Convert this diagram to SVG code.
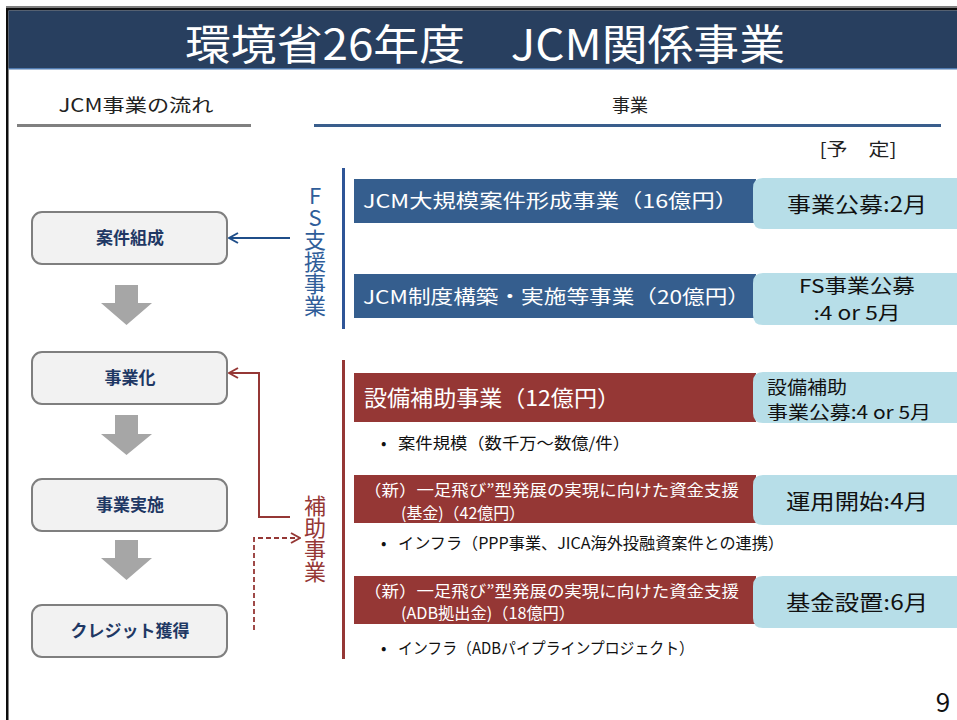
<svg xmlns="http://www.w3.org/2000/svg" width="957" height="720" viewBox="0 0 957 720">
<defs>
<style>
.jp{font-family:"Noto Sans CJK JP","Noto Sans",sans-serif;}
.node rect{fill:#F2F2F2;stroke:#7F7F7F;stroke-width:2;}
.node text{font-family:"Noto Sans CJK JP",sans-serif;font-weight:bold;font-size:17px;fill:#1F3864;text-anchor:middle;}
.bar-b{fill:#355E8E;}
.bar-r{fill:#953735;}
.sched{fill:#B7DEE8;}
.wt{fill:#FFFFFF;}
.bk{fill:#111111;}
.blk{fill:#A6A6A6;}
.vert{writing-mode:vertical-rl;text-orientation:upright;}
</style>
<marker id="chevB" markerWidth="12" markerHeight="12" refX="11" refY="6" orient="auto" markerUnits="userSpaceOnUse">
<path d="M2,1 L11,6 L2,11" fill="none" stroke="#1F4E89" stroke-width="2"/>
</marker>
<marker id="chevR" markerWidth="12" markerHeight="12" refX="11" refY="6" orient="auto" markerUnits="userSpaceOnUse">
<path d="M2,1 L11,6 L2,11" fill="none" stroke="#953735" stroke-width="2"/>
</marker>
</defs>
<rect x="0" y="0" width="957" height="720" fill="#FFFFFF"/>
<!-- frame and title band -->
<rect x="6" y="6" width="951" height="2" fill="#7F7F7F"/>
<rect x="6" y="8" width="951" height="2.5" fill="#0D0D0D"/>
<rect x="6" y="8" width="2.5" height="712" fill="#0D0D0D"/>
<rect x="8.5" y="10.5" width="948.5" height="57.5" fill="#283F5F"/>
<rect x="8.5" y="68" width="948.5" height="1.5" fill="#4F7AB0"/>
<text x="485" y="60" class="jp" font-size="42" fill="#FFFFFF" text-anchor="middle" textLength="600" lengthAdjust="spacingAndGlyphs">環境省26年度　JCM関係事業</text>

<!-- section headers -->
<text x="136" y="112" class="jp" font-size="18" fill="#222222" text-anchor="middle" textLength="155" lengthAdjust="spacingAndGlyphs">JCM事業の流れ</text>
<rect x="17" y="124" width="234" height="3" fill="#808080"/>
<text x="630" y="112" class="jp" font-size="18" fill="#222222" text-anchor="middle">事業</text>
<rect x="314" y="124" width="627" height="3" fill="#3A5E8C"/>
<text x="858" y="156" class="jp" font-size="18" fill="#222222" text-anchor="middle" textLength="77" lengthAdjust="spacingAndGlyphs">[予　定]</text>

<!-- flow nodes -->
<g id="node-anken" class="node"><rect x="32" y="212" width="195" height="52" rx="10"/><text x="130" y="244">案件組成</text></g>
<g id="node-jigyoka" class="node"><rect x="32" y="352" width="195" height="52" rx="10"/><text x="130" y="384">事業化</text></g>
<g id="node-jisshi" class="node"><rect x="32" y="479" width="195" height="52" rx="10"/><text x="130" y="511">事業実施</text></g>
<g id="node-credit" class="node"><rect x="32" y="605" width="195" height="52" rx="10"/><text x="130" y="637">クレジット獲得</text></g>

<!-- block arrows between flow nodes -->
<g id="flow-arrows" class="blk">
<path d="M115,285 H138 V303 H152 L126.5,325 L101,303 H115 Z"/>
<path d="M115,415 H138 V434 H152 L126.5,455 L101,434 H115 Z"/>
<path d="M115,540 H138 V558 H152 L126.5,580 L101,558 H115 Z"/>
</g>

<!-- connectors -->
<g id="connectors" fill="none">
<path d="M290,238 H229" stroke="#1F4E89" stroke-width="2" marker-end="url(#chevB)"/>
<path d="M290,517 H259 V373 H229" stroke="#953735" stroke-width="2" marker-end="url(#chevR)"/>
<path d="M254,630 V538 H300" stroke="#953735" stroke-width="1.8" stroke-dasharray="5,3" marker-end="url(#chevR)"/>
</g>

<!-- FS support label -->
<g id="fs-label">
<rect x="342" y="168" width="3" height="161" fill="#2F5597"/>
<text x="315" y="185" class="jp vert" font-size="22" fill="#2F5D99">FS支援事業</text>
</g>

<!-- subsidy label -->
<g id="hojo-label">
<rect x="342" y="360" width="3" height="299" fill="#953735"/>
<text x="315" y="495" class="jp vert" font-size="22" fill="#953735">補助事業</text>
</g>

<!-- FS projects -->
<g id="fs-large">
<rect x="354" y="179" width="402" height="44" class="bar-b"/>
<text x="363" y="208" class="jp wt" font-size="19" textLength="375" lengthAdjust="spacingAndGlyphs">JCM大規模案件形成事業（16億円）</text>
</g>
<g id="sched-1">
<path d="M763,178 H957 V229 H763 Q753,229 753,219 V188 Q753,178 763,178 Z" class="sched"/>
<text x="857" y="212" class="jp bk" font-size="21" text-anchor="middle" textLength="140" lengthAdjust="spacingAndGlyphs">事業公募:2月</text>
</g>
<g id="fs-system">
<rect x="354" y="274" width="402" height="44" class="bar-b"/>
<text x="363" y="304" class="jp wt" font-size="19" textLength="387" lengthAdjust="spacingAndGlyphs">JCM制度構築・実施等事業（20億円）</text>
</g>
<g id="sched-2">
<path d="M763,273 H957 V325 H763 Q753,325 753,315 V283 Q753,273 763,273 Z" class="sched"/>
<text x="857" y="293" class="jp bk" font-size="19" text-anchor="middle" textLength="116" lengthAdjust="spacingAndGlyphs">FS事業公募</text>
<text x="857" y="320" class="jp bk" font-size="19" text-anchor="middle" textLength="87" lengthAdjust="spacingAndGlyphs">:4 or 5月</text>
</g>

<!-- subsidy projects -->
<g id="sub-equip">
<rect x="354" y="373" width="402" height="49" class="bar-r"/>
<text x="364" y="406" class="jp wt" font-size="22" textLength="256" lengthAdjust="spacingAndGlyphs">設備補助事業（12億円）</text>
</g>
<g id="sched-3">
<path d="M763,372 H957 V423 H763 Q753,423 753,413 V382 Q753,372 763,372 Z" class="sched"/>
<text x="767" y="394" class="jp bk" font-size="18" textLength="80" lengthAdjust="spacingAndGlyphs">設備補助</text>
<text x="767" y="419" class="jp bk" font-size="18" textLength="164" lengthAdjust="spacingAndGlyphs">事業公募:4 or 5月</text>
</g>
<text x="381" y="449" class="jp bk" font-size="16">•</text>
<text x="398" y="449" class="jp bk" font-size="16" textLength="232" lengthAdjust="spacingAndGlyphs">案件規模（数千万～数億/件）</text>

<g id="sub-fund">
<rect x="354" y="475" width="402" height="48" class="bar-r"/>
<text x="364" y="496" class="jp wt" font-size="16" textLength="375" lengthAdjust="spacingAndGlyphs">（新）一足飛び”型発展の実現に向けた資金支援</text>
<text x="401" y="519" class="jp wt" font-size="16" textLength="124" lengthAdjust="spacingAndGlyphs">(基金)（42億円）</text>
</g>
<g id="sched-4">
<path d="M763,475 H957 V525 H763 Q753,525 753,515 V485 Q753,475 763,475 Z" class="sched"/>
<text x="857" y="509" class="jp bk" font-size="21" text-anchor="middle" textLength="142" lengthAdjust="spacingAndGlyphs">運用開始:4月</text>
</g>
<text x="381" y="549" class="jp bk" font-size="16">•</text>
<text x="398" y="549" class="jp bk" font-size="16" textLength="386" lengthAdjust="spacingAndGlyphs">インフラ（PPP事業、JICA海外投融資案件との連携）</text>

<g id="sub-adb">
<rect x="354" y="576" width="402" height="48" class="bar-r"/>
<text x="364" y="597" class="jp wt" font-size="16" textLength="375" lengthAdjust="spacingAndGlyphs">（新）一足飛び”型発展の実現に向けた資金支援</text>
<text x="401" y="619" class="jp wt" font-size="16" textLength="174" lengthAdjust="spacingAndGlyphs">(ADB拠出金)（18億円）</text>
</g>
<g id="sched-5">
<path d="M763,576 H957 V628 H763 Q753,628 753,618 V586 Q753,576 763,576 Z" class="sched"/>
<text x="857" y="610" class="jp bk" font-size="21" text-anchor="middle" textLength="142" lengthAdjust="spacingAndGlyphs">基金設置:6月</text>
</g>
<text x="381" y="654" class="jp bk" font-size="16">•</text>
<text x="398" y="654" class="jp bk" font-size="16" textLength="296" lengthAdjust="spacingAndGlyphs">インフラ（ADBパイプラインプロジェクト）</text>

<text x="943" y="712" class="jp bk" font-size="26" text-anchor="middle">9</text>
</svg>
